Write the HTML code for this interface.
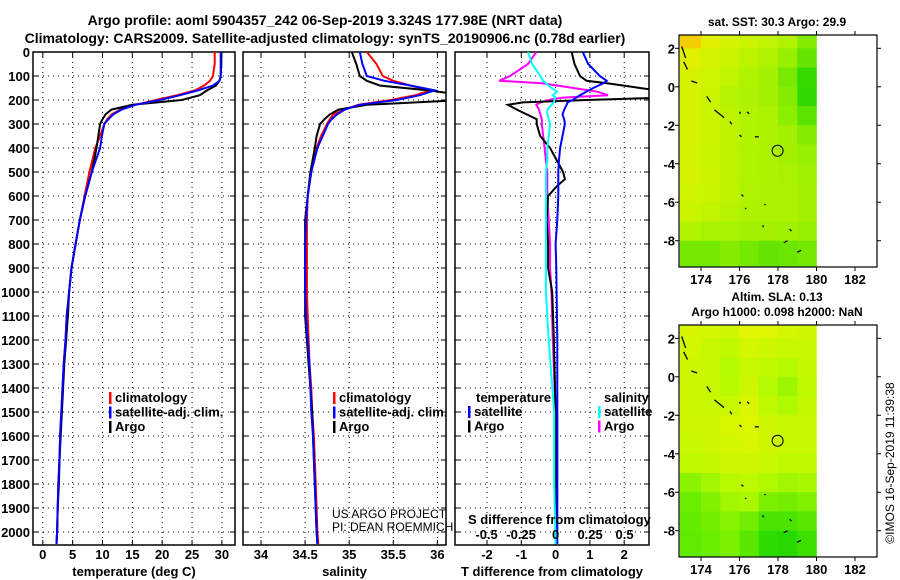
<!DOCTYPE html>
<html><head><meta charset="utf-8"><style>
body{margin:0;background:#fff;}
svg{display:block;font-family:"Liberation Sans",Arial,sans-serif;}
.b{font-weight:bold;font-size:13px;fill:#000;}
.t{font-weight:bold;font-size:14px;}
</style></head><body>
<svg id="fig" width="900" height="580" viewBox="0 0 900 580">
<text class="t" x="325" y="25" text-anchor="middle">Argo profile: aoml 5904357_242 06-Sep-2019 3.324S 177.98E (NRT data)</text>
<text class="t" x="325" y="43" text-anchor="middle">Climatology: CARS2009. Satellite-adjusted climatology: synTS_20190906.nc (0.78d earlier)</text>
<g id="plots"></g>
</svg>
<script>
// ---------- data ----------
const depths=[0,50,100,120,140,160,180,200,220,240,260,280,300,350,400,500,600,700,800,900,1000,1100,1200,1300,1400,1500,1600,1700,1800,1900,2000,2050];
const tClim=[28.8,28.8,28.5,28,27,25.5,22.5,19,15.5,13,11.5,10.8,10.3,9.6,8.8,7.8,7.0,6.2,5.5,4.8,4.4,4.0,3.8,3.5,3.3,3.1,2.9,2.8,2.6,2.5,2.4,2.3];
const tSat=[29.8,29.8,29.8,29.6,28.5,26,23,19.6,15.5,13.2,11.8,11,10.3,9.9,9.6,8.2,7.1,6.2,5.5,4.8,4.4,4.0,3.8,3.5,3.3,3.1,2.9,2.8,2.6,2.5,2.4,2.3];
const tArgo=[29.9,29.9,29.8,29.6,29,27.5,26.3,23.3,15,11.5,10.5,10,9.6,9.3,9.0,8.2,7.1,6.2,5.5,4.8,4.4,4.2,3.9,3.6,3.4,3.2,3.0,2.8,2.7,2.5,2.4,2.3];
const sClim=[35.2,35.31,35.38,35.5,35.7,35.92,35.75,35.47,35.1,34.95,34.82,34.78,34.75,34.68,34.63,34.57,34.53,34.52,34.52,34.52,34.52,34.53,34.54,34.55,34.57,34.58,34.6,34.61,34.62,34.63,34.64,34.65];
const sSat=[35.12,35.15,35.2,35.4,35.7,35.97,35.8,35.54,35.12,34.95,34.86,34.8,34.76,34.7,34.64,34.57,34.53,34.51,34.5,34.5,34.5,34.51,34.53,34.55,34.56,34.57,34.59,34.6,34.61,34.62,34.63,34.64];
const sArgo=[35.03,35.08,35.12,35.2,35.35,35.9,36.3,36.3,35.2,34.88,34.78,34.72,34.67,34.63,34.61,34.56,34.53,34.5,34.5,34.5,34.5,34.5,34.52,34.54,34.56,34.58,34.59,34.6,34.61,34.62,34.63,34.64];
const dDepths=[0,50,100,120,130,150,165,180,190,200,210,220,240,260,280,300,350,400,450,500,530,560,600,700,800,900,1000,1200,1500,1800,2050];
const dTsat=[0.79,0.95,1.29,1.49,1.4,1.1,0.9,0.71,0.6,0.5,0.35,0.32,0.25,0.2,0.25,0.27,0.2,0.13,0.1,0.08,0.08,0.08,0.08,0.05,0,0.02,0.03,0.05,0.05,0.05,0.05];
const dTargo=[0.47,0.55,0.71,0.9,1.5,2.46,3.2,3.2,3.2,0.9,-0.95,-1.39,-1.13,-0.84,-0.55,-0.55,-0.45,-0.16,0.03,0.22,0.27,0.03,-0.22,-0.26,-0.22,-0.22,-0.1,-0.05,0,0,0];
const dSargo=[-0.14,-0.2,-0.33,-0.41,-0.1,0.13,0.3,0.38,0.05,-0.05,-0.11,-0.14,-0.12,-0.11,-0.1,-0.1,-0.09,-0.08,-0.07,-0.06,-0.06,-0.06,-0.06,-0.05,-0.04,-0.04,-0.03,-0.02,0,0.01,0.01];
const dSsat=[-0.2,-0.17,-0.11,-0.09,-0.07,-0.03,0.01,-0.02,0.0,-0.01,-0.01,-0.03,-0.06,-0.06,-0.05,-0.04,-0.05,-0.06,-0.06,-0.07,-0.07,-0.07,-0.07,-0.07,-0.07,-0.07,-0.07,-0.05,-0.01,-0.01,0];
const depthTicks=[0,100,200,300,400,500,600,700,800,900,1000,1100,1200,1300,1400,1500,1600,1700,1800,1900,2000];
const tTicks=[0,5,10,15,20,25,30];
const sTicks=[34,34.5,35,35.5,36];
const sTickLabels=["34","34.5","35","35.5","36"];
const dtTicks=[-2,-1,0,1,2];
const dsTicks=[-0.5,-0.25,0,0.25,0.5];
const dsTickLabels=["-0.5","-0.25","0","0.25","0.5"];
const lonTicks=[174,176,178,180,182];
const latTicks=[2,0,-2,-4,-6,-8];
const latEdges=[2.68,2,1,0,-1,-2,-3,-4,-5,-6,-7,-8,-9.37];
const lonEdges=[172.9,174,175,176,177,178,179,180];
const sstGrid=[
[0.92,0.8,0.72,0.66,0.62,0.56,0.4],
[0.8,0.72,0.66,0.6,0.55,0.45,0.3],
[0.74,0.68,0.62,0.55,0.5,0.36,0.16],
[0.72,0.66,0.58,0.54,0.5,0.4,0.15],
[0.72,0.66,0.6,0.56,0.54,0.42,0.28],
[0.72,0.66,0.6,0.56,0.54,0.5,0.4],
[0.72,0.65,0.6,0.56,0.54,0.5,0.45],
[0.72,0.66,0.6,0.56,0.54,0.52,0.48],
[0.7,0.65,0.6,0.55,0.54,0.54,0.5],
[0.66,0.62,0.58,0.54,0.54,0.54,0.5],
[0.56,0.52,0.52,0.5,0.5,0.48,0.45],
[0.35,0.35,0.4,0.35,0.3,0.32,0.35]];
const slaGrid=[
[0.75,0.74,0.72,0.8,0.78,0.74,0.72],
[0.74,0.7,0.66,0.74,0.72,0.7,0.7],
[0.72,0.7,0.62,0.7,0.66,0.62,0.68],
[0.72,0.7,0.64,0.72,0.62,0.55,0.66],
[0.72,0.7,0.7,0.76,0.66,0.6,0.68],
[0.72,0.72,0.76,0.78,0.72,0.7,0.7],
[0.7,0.72,0.74,0.76,0.72,0.7,0.7],
[0.66,0.68,0.72,0.72,0.7,0.66,0.66],
[0.5,0.56,0.64,0.66,0.6,0.56,0.58],
[0.42,0.48,0.56,0.58,0.46,0.44,0.48],
[0.4,0.44,0.5,0.44,0.3,0.3,0.36],
[0.38,0.42,0.46,0.36,0.18,0.16,0.24]];
const argoLon=[177.98], argoLat=[-3.324];

// ---------- helpers ----------
const NS="http://www.w3.org/2000/svg";
const root=document.getElementById('plots');
function el(tag,attrs,parent){const e=document.createElementNS(NS,tag);for(const k in attrs)e.setAttribute(k,attrs[k]);(parent||root).appendChild(e);return e;}
function txt(s,x,y,anchor,cls,parent){const e=el('text',{x:x,y:y,'text-anchor':anchor||'start','class':cls||'b'},parent);e.textContent=s;return e;}
const Y0=52, YB=545, PXM=0.24;
const yD=d=>Y0+d*PXM;
const clip=el('defs',{});
function panel(id,x0,x1,xs,ticks,labels,xlab,showDepth){
  const g=el('g',{});
  
  
  const cp=el('clipPath',{id:'c'+id},clip);el('rect',{x:x0,y:Y0,width:x1-x0,height:YB-Y0},cp);
  depthTicks.forEach(d=>{
    const l=el('line',{x1:x0,x2:x1,y1:yD(d),y2:yD(d),stroke:'#000','stroke-width':1,'stroke-dasharray':'1 4'},g);
    
    
    el('line',{x1:x0,x2:x0+5,y1:yD(d),y2:yD(d),stroke:'#000'},g);
    el('line',{x1:x1-5,x2:x1,y1:yD(d),y2:yD(d),stroke:'#000'},g);
    if(showDepth){const t=txt(String(d),30,yD(d)+5,'end','b',g);
      
      }
  });
  ticks.forEach((v,i)=>{
    const x=xs(v);
    const l=el('line',{x1:x,x2:x,y1:Y0,y2:YB,stroke:'#000','stroke-width':1,'stroke-dasharray':'1 4'},g);
    
    
    el('line',{x1:x,x2:x,y1:YB-5,y2:YB,stroke:'#000'},g);
    el('line',{x1:x,x2:x,y1:Y0,y2:Y0+5,stroke:'#000'},g);
    const t=txt(labels[i],x,559,'middle','b',g);
    
    
  });
  const r=el('rect',{x:x0,y:Y0,width:x1-x0,height:YB-Y0,fill:'none',stroke:'#000','stroke-width':1.5},g);
  
  
  const a=txt(xlab,(x0+x1)/2,576,'middle','b',g);
  
  
  return g;
}
function series(g,id,xs,vals,dep,color){
  let p='';
  vals.forEach((v,i)=>{p+=(i?'L':'M')+xs(v).toFixed(1)+','+yD(dep[i]).toFixed(1);});
  const e=el('path',{d:p,fill:'none',stroke:color,'stroke-width':2,'clip-path':'url(#c'+id+')'},g);
  
  
}
function legend(g,items,x,y0){
  items.forEach((it,i)=>{
    const y=y0+i*14.5;
    el('rect',{x:x,y:y-10,width:2.5,height:12,fill:it[1]},g);
    const t=txt(it[0],x+6,y,'start','b',g);
    
    
  });
}
// panel 1
const xT=v=>42.8+v*5.97;
const g1=panel('temperature-panel',33,235,xT,tTicks,tTicks.map(String),'temperature (deg C)',true);
series(g1,'temperature-panel',xT,tClim,depths,'#f00');
series(g1,'temperature-panel',xT,tArgo,depths,'#000');
series(g1,'temperature-panel',xT,tSat,depths,'#00f');
legend(g1,[['climatology','#f00'],['satellite-adj. clim.','#00f'],['Argo','#000']],109,402);
// panel 2
const xS=v=>261+(v-34)*88.2;
const g2=panel('salinity-panel',243,446,xS,sTicks,sTickLabels,'salinity',false);
series(g2,'salinity-panel',xS,sClim,depths,'#f00');
series(g2,'salinity-panel',xS,sArgo,depths,'#000');
series(g2,'salinity-panel',xS,sSat,depths,'#00f');
legend(g2,[['climatology','#f00'],['satellite-adj. clim.','#00f'],['Argo','#000']],333,402);
const us=el('text',{x:332,y:518,'font-size':'12px'},g2);us.textContent='US ARGO PROJECT';


const pi=el('text',{x:332,y:531,'font-size':'12px'},g2);pi.textContent='PI: DEAN ROEMMICH';


// panel 3
const xDT=v=>555.6+v*34.3;
const xDS=v=>555.6+v*138;
const g3=panel('difference-panel',455,649,xDT,dtTicks,dtTicks.map(String),'T difference from climatology',false);
series(g3,'difference-panel',xDS,dSargo,dDepths,'#f0f');
series(g3,'difference-panel',xDT,dTargo,dDepths,'#000');
series(g3,'difference-panel',xDT,dTsat,dDepths,'#00f');
series(g3,'difference-panel',xDS,dSsat,dDepths,'#0ff');
(function(){const a=txt('temperature',476,402,'start','b',g3);
const b=txt('salinity',604,402,'start','b',g3);})();
legend(g3,[['satellite','#00f'],['Argo','#000']],468,416);
legend(g3,[['satellite','#0ff'],['Argo','#f0f']],598,416);
(function(){const s=txt('S difference from climatology',468,524,'start','b',g3);
dsTicks.forEach((v,i)=>{const t=txt(dsTickLabels[i],xDS(v),539,'middle','b',g3);});})();

// ---------- maps ----------
function cmapSST(t){
  const stops=[[0,[0,205,0]],[0.45,[150,240,0]],[0.65,[200,245,0]],[0.8,[225,240,0]],[0.9,[240,215,0]],[1,[250,170,0]]];
  return interp(stops,t);}
function cmapSLA(t){
  const stops=[[0,[0,205,0]],[0.4,[100,235,0]],[0.6,[175,250,0]],[0.8,[225,245,0]],[1,[245,225,0]]];
  return interp(stops,t);}
function interp(st,t){for(let i=1;i<st.length;i++){if(t<=st[i][0]){const f=(t-st[i-1][0])/(st[i][0]-st[i-1][0]);const a=st[i-1][1],b=st[i][1];return 'rgb('+a.map((v,k)=>Math.round(v+(b[k]-v)*f)).join(',')+')';}}const l=st[st.length-1][1];return 'rgb('+l.join(',')+')';}
function map(id,top,grid,cmap,titles,labY){
  const g=el('g',{});
  
  
  const x0=679,x1=877,y1=top+232;
  const xL=lon=>701+(lon-174)*19.25;
  const yL=lat=>top+51.8-lat*19.24;
  grid.forEach((row,r)=>row.forEach((v,c)=>{
    const xa=xL(lonEdges[c]),xb=xL(lonEdges[c+1]),ya=yL(latEdges[r]),yb=yL(latEdges[r+1]);
    const cell=el('rect',{x:xa,y:ya,width:xb-xa+0.3,height:yb-ya+0.3,fill:cmap(v)},g);
    
    
  }));
  const coast=[[173,2.1,173.2,1.5],[173.1,1.3,173.3,0.9],[173.5,0.3,173.8,0.2],[174.3,-0.5,174.5,-0.8],[174.7,-1.2,175.2,-1.6],[175.5,-1.8,175.6,-1.95],[176,-1.3,176.05,-1.4],[176.4,-1.3,176.5,-1.4],[176,-2.5,176.1,-2.6],[176.8,-2.6,177,-2.6],[176.1,-5.6,176.2,-5.7],[176.3,-6.3,176.35,-6.35],[177.3,-6.1,177.35,-6.15],[177.2,-7.2,177.25,-7.3],[178.6,-7.4,178.7,-7.5],[178.3,-8.1,178.5,-8],[179,-8.6,179.2,-8.5]];
  coast.forEach(c=>{const p=el('line',{x1:xL(c[0]),y1:yL(c[1]),x2:xL(c[2]),y2:yL(c[3]),stroke:'#000','stroke-width':1.3},g);
    
    });
  const circ=el('circle',{cx:xL(argoLon[0]),cy:yL(argoLat[0]),r:5.5,fill:'none',stroke:'#000','stroke-width':1},g);
  
  
  const fr=el('rect',{x:x0,y:top,width:x1-x0,height:y1-top,fill:'none',stroke:'#000','stroke-width':1.2},g);
  
  
  lonTicks.forEach(v=>{el('line',{x1:xL(v),x2:xL(v),y1:top,y2:top-4,stroke:'#000'},g);el('line',{x1:xL(v),x2:xL(v),y1:y1,y2:y1+4,stroke:'#000'},g);
    const t=txt(String(v),xL(v),labY,'middle','b',g);});
  latTicks.forEach(v=>{el('line',{x1:x0,x2:x0-4,y1:yL(v),y2:yL(v),stroke:'#000'},g);el('line',{x1:x1,x2:x1+4,y1:yL(v),y2:yL(v),stroke:'#000'},g);
    const t=txt(String(v),675,yL(v)+5,'end','b',g);});
  titles.forEach(tt=>{const t=el('text',{x:777,y:tt[1],'text-anchor':'middle','font-weight':'bold','font-size':'12px'},g);t.textContent=tt[0];
    });
}
map('sst-map',35,sstGrid,cmapSST,[['sat. SST: 30.3 Argo: 29.9',26]],284);
map('sla-map',325,slaGrid,cmapSLA,[['Altim. SLA: 0.13',301],['Argo h1000: 0.098 h2000: NaN',316]],574);
const ts=el('text',{x:0,y:0,'font-size':'12px',transform:'translate(894,463) rotate(-90)','text-anchor':'middle'});
ts.textContent='©IMOS 16-Sep-2019 11:39:38';


</script>
</body></html>
